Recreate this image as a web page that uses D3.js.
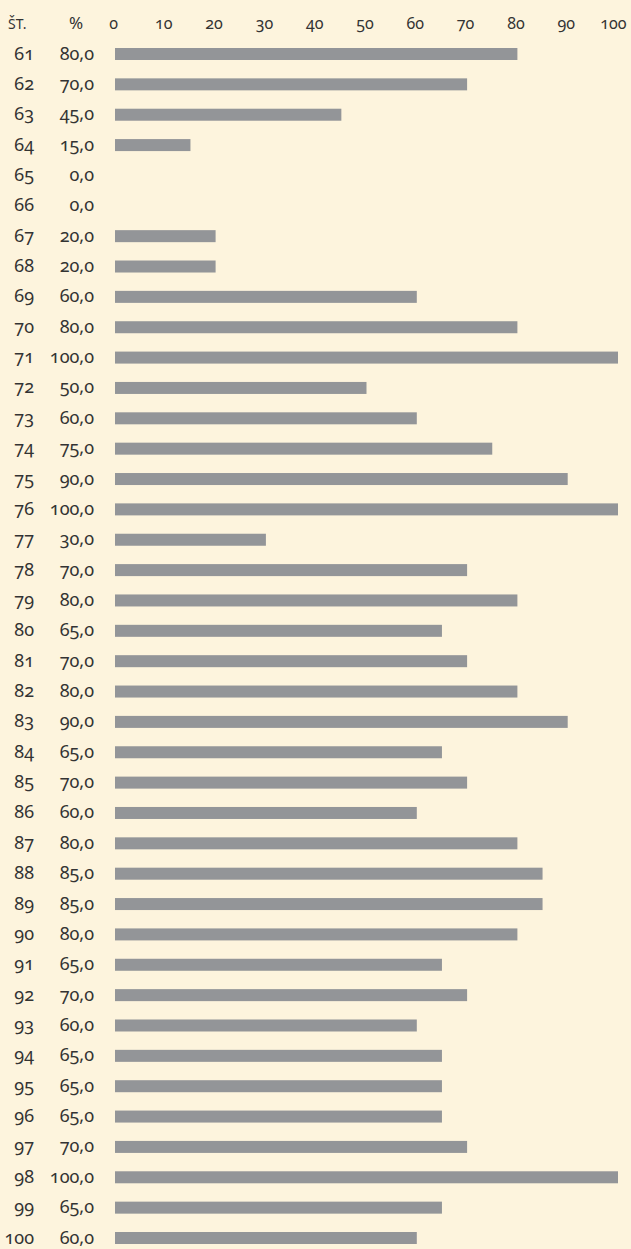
<!DOCTYPE html>
<html>
<head>
<meta charset="utf-8">
<script src="https://cdn.jsdelivr.net/npm/d3@7"></script>
<style>
  html, body { margin: 0; padding: 0; background: #fdf4dd; }
  svg text { font-family: "Noto Sans", Lato, sans-serif; font-variant-numeric: oldstyle-nums; fill: #333; }
</style>
</head>
<body>
<script>
const categories = [61,62,63,64,65,66,67,68,69,70,71,72,73,74,75,76,77,78,79,80,
                    81,82,83,84,85,86,87,88,89,90,91,92,93,94,95,96,97,98,99,100];
const values = [80,70,45,15,0,0,20,20,60,80,100,50,60,75,90,100,30,70,80,65,
                70,80,90,65,70,60,80,85,85,80,65,70,60,65,65,65,70,100,65,60];
const tickValues = [0,10,20,30,40,50,60,70,80,90,100];
const headerLabels = ["ŠT.", "%"];

document.addEventListener("DOMContentLoaded", () => {
    const width = 631, height = 1249;
    const fmt = v => d3.format(".1f")(v).replace(".", ",");

    const svg = d3.select("body").append("svg")
        .attr("width", width)
        .attr("height", height)
        .style("display", "block");

    const xScale = d3.scaleLinear().domain([0, 100]).range([115, 618]);
    const yScale = d3.scalePoint().domain(categories).range([54, 1238]);
    const barH = 12;

    // top axis, labels only
    const xAxis = d3.axisTop(xScale).tickValues(tickValues).tickSize(0).tickPadding(0);
    const ax = svg.append("g").attr("transform", "translate(0, 29)").call(xAxis);
    ax.select(".domain").remove();
    ax.selectAll("text").attr("font-size", 16).attr("fill", "#333")
        .attr("font-family", null)
        .attr("text-anchor", d => d === 100 ? "end" : "middle")
        .attr("dx", d => d === 100 ? 8 : -2);

    // header
    svg.append("text").attr("x", 8).attr("y", 29).attr("font-size", 14).text(headerLabels[0]);
    svg.append("text").attr("x", 76).attr("y", 29).attr("font-size", 17).attr("text-anchor", "middle").text(headerLabels[1]);

    const rows = svg.append("g").selectAll("g")
        .data(categories.map((c, i) => ({ c, v: values[i] })))
        .join("g")
        .attr("transform", d => `translate(0, ${yScale(d.c)})`);

    rows.append("text")
        .attr("x", 34).attr("y", 5.5)
        .attr("text-anchor", "end")
        .attr("font-size", 18)
        .text(d => d.c);

    rows.append("text")
        .attr("x", 94).attr("y", 5.5)
        .attr("text-anchor", "end")
        .attr("font-size", 18)
        .text(d => fmt(d.v));

    rows.filter(d => d.v > 0).append("rect")
        .attr("x", xScale(0))
        .attr("y", -barH / 2)
        .attr("width", d => xScale(d.v) - xScale(0))
        .attr("height", barH)
        .attr("fill", "#939598");
});
</script>
</body>
</html>
